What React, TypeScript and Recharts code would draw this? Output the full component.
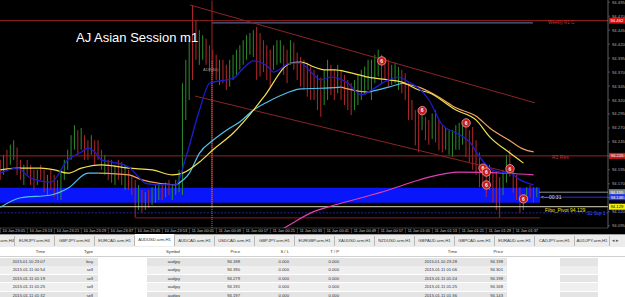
import React from "react";
import { ComposedChart, Bar, Line, Scatter, XAxis, YAxis, ReferenceLine, ReferenceArea } from "recharts";

// minutes counted from 10 Jan 23:00, one m1 bar per minute
const candleHigh = [
  94.213, 94.222, 94.231, 94.24, 94.248, 94.235, 94.213, 94.204, 94.213, 94.204,
  94.195, 94.195, 94.204, 94.195, 94.186, 94.195, 94.186, 94.177, 94.195, 94.213,
  94.231, 94.257, 94.275, 94.266, 94.27, 94.257, 94.248, 94.257, 94.248, 94.248,
  94.231, 94.222, 94.213, 94.213, 94.204, 94.213, 94.209, 94.204, 94.195, 94.186,
  94.177, 94.168, 94.159, 94.155, 94.159, 94.164, 94.168, 94.172, 94.168, 94.172,
  94.177, 94.168, 94.177, 94.195, 94.35, 94.392, 94.427, 94.49, 94.463, 94.445,
  94.436, 94.43, 94.418, 94.41, 94.401, 94.392, 94.392, 94.383, 94.392, 94.401,
  94.41, 94.418, 94.427, 94.436, 94.44, 94.445, 94.451, 94.44, 94.427, 94.418,
  94.41, 94.418, 94.427, 94.427, 94.418, 94.41, 94.427, 94.423, 94.405, 94.397,
  94.392, 94.387, 94.38, 94.374, 94.365, 94.36, 94.374, 94.392, 94.383, 94.374,
  94.383, 94.374, 94.365, 94.356, 94.35, 94.356, 94.365, 94.374, 94.38, 94.392,
  94.392, 94.401, 94.41, 94.401, 94.397, 94.392, 94.383, 94.387, 94.379, 94.374,
  94.368, 94.35, 94.32, 94.302, 94.296, 94.293, 94.29, 94.284, 94.296, 94.302,
  94.284, 94.275, 94.27, 94.266, 94.266, 94.275, 94.279, 94.284, 94.279, 94.266,
  94.272, 94.248, 94.226, 94.204, 94.19, 94.204, 94.195, 94.19, 94.182, 94.195,
  94.222, 94.231, 94.2, 94.186, 94.164, 94.146, 94.164, 94.168, 94.164, 94.164,
];
const candleLow = [
  94.177, 94.186, 94.195, 94.204, 94.213, 94.186, 94.177, 94.168, 94.186, 94.168,
  94.159, 94.168, 94.177, 94.155, 94.15, 94.159, 94.146, 94.141, 94.141, 94.177,
  94.195, 94.213, 94.231, 94.222, 94.231, 94.213, 94.213, 94.222, 94.204, 94.213,
  94.195, 94.186, 94.177, 94.172, 94.168, 94.177, 94.168, 94.159, 94.159, 94.15,
  94.11, 94.123, 94.118, 94.123, 94.127, 94.132, 94.136, 94.141, 94.141, 94.146,
  94.15, 94.141, 94.15, 94.155, 94.15, 94.284, 94.32, 94.356, 94.392, 94.383,
  94.392, 94.383, 94.37, 94.365, 94.356, 94.347, 94.35, 94.338, 94.344, 94.356,
  94.365, 94.374, 94.383, 94.392, 94.401, 94.397, 94.356, 94.362, 94.37, 94.356,
  94.344, 94.374, 94.383, 94.386, 94.365, 94.35, 94.383, 94.374, 94.356, 94.344,
  94.338, 94.326, 94.32, 94.32, 94.302, 94.29, 94.311, 94.32, 94.329, 94.32,
  94.332, 94.32, 94.311, 94.302, 94.293, 94.302, 94.311, 94.32, 94.329, 94.338,
  94.32, 94.35, 94.362, 94.35, 94.356, 94.344, 94.347, 94.35, 94.338, 94.332,
  94.32, 94.284, 94.284, 94.239, 94.226, 94.266, 94.248, 94.24, 94.25, 94.244,
  94.23, 94.226, 94.231, 94.222, 94.218, 94.231, 94.231, 94.24, 94.218, 94.209,
  94.195, 94.186, 94.164, 94.164, 94.146, 94.159, 94.136, 94.123, 94.11, 94.15,
  94.172, 94.183, 94.154, 94.141, 94.118, 94.123, 94.141, 94.146, 94.136, 94.146,
];
const candleDir = [
  "duduuddudd", "dudduddduu", "uuududdudd", "dudduddudd", "dududuuudu",
  "duuuuuuddu", "uddddudduu", "uuuuuudddd", "duuudduddd", "dddddduudd",
  "udddduuuuu", "uuuddduuud", "ddddduddud", "dduuuuuudd", "dddddudddu",
  "udddduuddu",
].join("");

// moving averages as [minute, price]
const fastMa = [
  [1, 94.189], [6, 94.198], [10, 94.18], [16, 94.173], [21, 94.213], [25, 94.227], [27, 94.234],
  [29, 94.227], [31, 94.213], [34, 94.209], [39, 94.2], [42, 94.182], [44, 94.171], [48, 94.168],
  [53, 94.168], [56, 94.218], [60, 94.302], [63, 94.35], [70, 94.359], [73, 94.377], [76, 94.39],
  [80, 94.381], [82, 94.37], [87, 94.386], [90, 94.386], [93, 94.37], [96, 94.356], [99, 94.361],
  [101, 94.359], [104, 94.35], [108, 94.329], [111, 94.338], [116, 94.356], [119, 94.361],
  [122, 94.352], [125, 94.341], [128, 94.32], [132, 94.275], [136, 94.261], [140, 94.245],
  [143, 94.218], [146, 94.198], [149, 94.191], [152, 94.189], [155, 94.177], [159, 94.168],
];
const yellowMa = [
  [1, 94.195], [6, 94.198], [13, 94.198], [17, 94.195], [21, 94.189], [25, 94.198], [31, 94.204],
  [39, 94.198], [46, 94.195], [52, 94.186], [55, 94.189], [60, 94.209], [64, 94.231], [70, 94.261],
  [76, 94.302], [79, 94.325], [87, 94.386], [90, 94.388], [94, 94.379], [97, 94.374], [100, 94.374],
  [104, 94.37], [110, 94.361], [116, 94.356], [120, 94.352], [125, 94.338], [128, 94.333],
  [136, 94.302], [142, 94.284], [146, 94.254], [152, 94.225], [156, 94.207],
];
const slowMa = [
  [1, 94.128], [7, 94.145], [16, 94.15], [21, 94.162], [27, 94.189], [30, 94.189], [39, 94.186],
  [43, 94.177], [48, 94.171], [53, 94.168], [57, 94.189], [60, 94.225], [64, 94.248], [68, 94.266],
  [72, 94.281], [76, 94.302], [80, 94.316], [86, 94.333], [90, 94.34], [96, 94.341], [102, 94.343],
  [107, 94.336], [110, 94.334], [116, 94.343], [120, 94.35], [125, 94.343], [131, 94.325],
  [136, 94.306], [142, 94.291], [146, 94.27], [152, 94.247], [156, 94.232], [159, 94.227],
];
// c = rising (cyan), o = falling (orange), one letter per segment
const slowMaTrend = "ccccc" + "oooo" + "ccccccccccc" + "oo" + "cc" + "oooooooo";
const longMa = [
  [84, 94.087], [86, 94.094], [93, 94.118], [100, 94.132], [108, 94.145], [116, 94.159],
  [122, 94.171], [128, 94.182], [137, 94.191], [151, 94.189], [159, 94.186],
];

const timeTicks = [5, 13, 21, 29, 37, 45, 53, 61, 69, 77, 85, 93, 101, 109, 117, 125, 133, 141, 149, 157];
const timeLabels = [
  "10 Jan 23:05", "10 Jan 23:13", "10 Jan 23:21", "10 Jan 23:29", "10 Jan 23:37", "10 Jan 23:45",
  "10 Jan 23:53", "11 Jan 00:01", "11 Jan 00:09", "11 Jan 00:17", "11 Jan 00:25", "11 Jan 00:33",
  "11 Jan 00:41", "11 Jan 00:49", "11 Jan 00:57", "11 Jan 01:05", "11 Jan 01:13", "11 Jan 01:21",
  "11 Jan 01:29", "11 Jan 01:37",
];
const priceTicks = [
  94.095, 94.12, 94.145, 94.17, 94.195, 94.22, 94.245, 94.27, 94.295, 94.32, 94.345, 94.37,
  94.395, 94.42, 94.445, 94.47, 94.495,
];

const tradeOpenTime = ["2015.01.10 23:07", "2015.01.11 00:54", "2015.01.11 01:19", "2015.01.11 01:25", "2015.01.11 01:32"];
const tradeType = ["buy", "sell", "sell", "sell", "sell"];
const tradeSymbol = ["audjpy", "audjpy", "audjpy", "audjpy", "audjpy"];
const tradeOpenPrice = [94.188, 94.39, 94.279, 94.191, 94.197];
const tradeSL = [0, 0, 0, 0, 0];
const tradeTP = [0, 0, 0, 0, 0];
const tradeCloseTime = ["2015.01.10 23:28", "2015.01.11 01:06", "2015.01.11 01:24", "2015.01.11 01:25", "2015.01.11 01:36"];
const tradeClosePrice = [94.198, 94.301, 94.198, 94.168, 94.143];

const tabs = [
  "USDJPY.arm,H4", "EURJPY.arm,H4", "GBPJPY.arm,H4", "EURCAD.arm,H1", "AUDUSD.arm,H1", "AUDCAD.arm,H1",
  "USDCAD.arm,H1", "GBPJPY.arm,H1", "EURGBP.arm,H1", "XAUUSD.arm,H1", "NZDUSD.arm,H1", "GBPAUD.arm,H1",
  "GBPCAD.arm,H1", "EURAUD.arm,H1", "CADJPY.arm,H1", "AUDJPY.arm,H1",
];

// chart levels
const r1Weekly = 94.462;
const r1Res = 94.22;
const fiboPivot = 94.129;
const sup1 = 94.118;
const bidLine = 94.155;
const askLine = 94.146;
const sessionLow = 94.109;
const sessionBox = { low: 94.136, high: 94.163, end: 160.9 };
const sessionStart = 63.7;

const X_DOMAIN: [number, number] = [0.89, 181.04];
const Y_DOMAIN: [number, number] = [94.0909, 94.499];

const FONT = "'Liberation Sans', Arial, sans-serif";
const UP = "#2c8c2c";
const DOWN = "#b3282a";

const toMinute = (s: string) => {
  const day = Number(s.slice(8, 10));
  const hh = Number(s.slice(11, 13));
  const mm = Number(s.slice(14, 16));
  return (day - 10) * 1440 + hh * 60 + mm - 1380;
};

const candles = candleHigh.map((hi, i) => ({ m: i + 1, range: [candleLow[i], hi], dir: candleDir[i] }));
const toRows = (arr: number[][]) => arr.map(([m, p]) => ({ m, p }));
const slowRows = slowMa.map(([m, p], i) => {
  const prev = slowMaTrend[Math.max(i - 1, 0)];
  const cur = slowMaTrend[Math.min(i, slowMaTrend.length - 1)];
  return {
    m,
    up: cur === "c" || prev === "c" ? p : null,
    down: cur === "o" || prev === "o" ? p : null,
  };
});
const marks: { m: number; p: number }[] = [];
tradeOpenTime.forEach((t, i) => {
  if (!t.startsWith("2015.01.11")) return;
  marks.push({ m: toMinute(t), p: tradeOpenPrice[i] });
  marks.push({ m: toMinute(tradeCloseTime[i]), p: tradeClosePrice[i] });
});

const CandleShape = (props: any) => {
  const { x, y, width, height, payload } = props;
  const top = height < 0 ? y + height : y;
  return (
    <rect x={x + width / 2 - 0.5} y={top} width={1} height={Math.max(Math.abs(height), 1)}
      fill={payload.dir === "u" ? UP : DOWN} />
  );
};

const TradeMark = (props: any) => {
  const { cx, cy } = props;
  return (
    <g>
      <circle cx={cx} cy={cy} r={4.2} fill="#c41c1c" stroke="#f2a0a0" strokeWidth={0.8} />
      <text x={cx} y={cy + 1.8} textAnchor="middle" fontSize={5} fontWeight="bold" fill="#fff" fontFamily={FONT}>6</text>
    </g>
  );
};

const TimeTick = (props: any) => {
  const { x, y, payload } = props;
  const label = timeLabels[timeTicks.indexOf(payload.value)];
  return (
    <g>
      <line x1={x - 13.5} x2={x - 13.5} y1={y} y2={y + 5} stroke="#777" strokeWidth={0.5} />
      <text x={x} y={y + 4.3} textAnchor="middle" fontSize={3.9} fill="#c8c8c8" fontFamily={FONT}>{label}</text>
    </g>
  );
};

const PriceTick = (props: any) => {
  const { x, y, payload } = props;
  return (
    <text x={x} y={y + 1.5} fontSize={4.2} fill="#b0b0b0" fontFamily={FONT}>{payload.value.toFixed(3)}</text>
  );
};

const priceTag = (bg: string, fg: string, value: number) => (p: any) => {
  const vb = p.viewBox || {};
  const x = (vb.x || 0) + (vb.width || 0);
  const y = vb.y || 0;
  return (
    <g>
      <rect x={x + 1} y={y - 3} width={16} height={6} fill={bg} />
      <text x={x + 2.5} y={y + 1.6} fontSize={4.2} fill={fg} fontFamily={FONT}>{value.toFixed(3)}</text>
    </g>
  );
};

const overlay = (left: number, top: number, color: string, size: number, text: string) => (
  <div style={{ position: "absolute", left, top, color, fontSize: size, lineHeight: 1, whiteSpace: "nowrap", fontFamily: FONT }}>
    {text}
  </div>
);

const cols = [
  { h: "Time", r: 45, v: (i: number) => tradeOpenTime[i] },
  { h: "Type", r: 93, v: (i: number) => tradeType[i] },
  { h: "Symbol", r: 180, v: (i: number) => tradeSymbol[i] },
  { h: "Price", r: 240, v: (i: number) => tradeOpenPrice[i].toFixed(3) },
  { h: "S / L", r: 289, v: (i: number) => tradeSL[i].toFixed(3) },
  { h: "T / P", r: 339, v: (i: number) => tradeTP[i].toFixed(3) },
  { h: "Time", r: 457, v: (i: number) => tradeCloseTime[i] },
  { h: "Price", r: 503, v: (i: number) => tradeClosePrice[i].toFixed(3) },
];
const rowBands = [[0, 98], [147, 507], [560, 598]];

const lineProps = { type: "monotone" as const, strokeWidth: 1.2, dot: false, activeDot: false, isAnimationActive: false };

export default function App() {
  return (
    <div style={{ position: "absolute", left: 0, top: 0, width: 625, height: 297, background: "#fff", overflow: "hidden", fontFamily: FONT }}>
      <div style={{ position: "absolute", left: 0, top: 0, width: 625, height: 234, background: "#000" }}>
        <ComposedChart width={625} height={234} data={candles} margin={{ top: 0, right: 0, bottom: 0, left: 0 }}>
          <XAxis dataKey="m" type="number" domain={X_DOMAIN} allowDataOverflow ticks={timeTicks}
            tick={<TimeTick />} tickLine={false} tickSize={0} tickMargin={0} height={6}
            axisLine={{ stroke: "#666", strokeWidth: 0.6 }} interval={0} />
          <YAxis orientation="right" type="number" domain={Y_DOMAIN} allowDataOverflow ticks={priceTicks}
            tick={<PriceTick />} tickSize={2} tickMargin={2} width={17} interval={0}
            axisLine={{ stroke: "#8a8a8a", strokeWidth: 0.7 }} tickLine={{ stroke: "#8a8a8a", strokeWidth: 0.5 }} />

          <ReferenceArea x1={X_DOMAIN[0]} x2={sessionBox.end} y1={sessionBox.low} y2={sessionBox.high}
            fill="#0a16fa" fillOpacity={1} stroke="none" />

          <ReferenceLine y={r1Weekly} stroke="#9a2222" strokeWidth={1} label={priceTag("#d01414", "#fff", r1Weekly)} />
          <ReferenceLine segment={[{ x: sessionStart, y: 94.458 }, { x: 158.8, y: 94.458 }]} stroke="#6a78b0" strokeWidth={1} />
          <ReferenceLine y={r1Res} stroke="#9a2222" strokeWidth={1} label={priceTag("#d01414", "#fff", r1Res)} />
          <ReferenceLine y={fiboPivot} stroke="#d8d8c0" strokeWidth={1} label={priceTag("#f0f010", "#000", fiboPivot)} />
          <ReferenceLine y={sup1} stroke="#2c2cc0" strokeWidth={0.8} strokeDasharray="2 1.5" />
          <ReferenceLine segment={[{ x: 160.6, y: bidLine }, { x: X_DOMAIN[1], y: bidLine }]} stroke="#8c9090" strokeWidth={1} />
          <ReferenceLine segment={[{ x: 160.6, y: askLine }, { x: X_DOMAIN[1], y: askLine }]} stroke="#1a30ff" strokeWidth={1} />
          <ReferenceLine y={bidLine} stroke="none" label={priceTag("#7d8a8a", "#fff", bidLine)} />
          <ReferenceLine y={askLine} stroke="none" label={priceTag("#1a30ff", "#fff", askLine)} />
          <ReferenceLine segment={[{ x: 40.9, y: sessionLow }, { x: sessionBox.end, y: sessionLow }]} stroke="#8a1c1c" strokeWidth={1} />
          <ReferenceLine segment={[{ x: 57.2, y: 94.49 }, { x: 159.4, y: 94.315 }]} stroke="#8b2525" strokeWidth={1} />
          <ReferenceLine segment={[{ x: 58.7, y: 94.327 }, { x: 153.5, y: 94.188 }]} stroke="#8b2525" strokeWidth={1} />
          <ReferenceLine segment={[{ x: sessionStart, y: 94.498 }, { x: sessionStart, y: 94.132 }]} stroke="#a82020" strokeWidth={1} />
          <ReferenceLine segment={[{ x: sessionStart, y: 94.39 }, { x: sessionStart, y: 94.091 }]} stroke="#9ab4d0" strokeWidth={0.8} strokeDasharray="1 1" />

          <Bar dataKey="range" barSize={1} shape={<CandleShape />} activeBar={false} isAnimationActive={false} />

          <Line data={toRows(longMa)} dataKey="p" stroke="#e040b0" {...lineProps} />
          <Line data={slowRows} dataKey="up" stroke="#4ec3f0" {...lineProps} />
          <Line data={slowRows} dataKey="down" stroke="#f0a060" {...lineProps} />
          <Line data={toRows(yellowMa)} dataKey="p" stroke="#f2e050" {...lineProps} />
          <Line data={toRows(fastMa)} dataKey="p" stroke="#1c1cd0" {...lineProps} strokeWidth={1.3} />

          <Scatter data={marks} dataKey="p" shape={<TradeMark />} isAnimationActive={false} />
        </ComposedChart>

        {overlay(76, 30.7, "#fff", 13, "AJ Asian Session m1")}
        {overlay(203, 67.5, "#9a9a9a", 4, "ADR(60)")}
        {overlay(548, 20.5, "#d03030", 4.5, "Weekly R1 C")}
        {overlay(552, 155, "#d03030", 5, "R1 Res")}
        {overlay(541, 194.5, "#dcdcdc", 5, "<---00:31")}
        {overlay(545, 207.5, "#e8e020", 5, "Fibo_Pivot 94.129")}
        {overlay(587, 211.5, "#3a5aff", 4.5, "S1 Sup 1")}
      </div>

      <div style={{ position: "absolute", left: 0, top: 234, width: 625, height: 13, background: "#ececec", borderTop: "1px solid #a0a0a0", boxSizing: "border-box" }}>
        {tabs.map((t, i) => (
          <div key={i} style={{
            position: "absolute", left: i === 0 ? 0 : -25 + 40 * i, top: i === 4 ? -1 : 1,
            width: i === 0 ? 15 : i === tabs.length - 1 ? 35 : 40, height: i === 4 ? 12 : 10,
            background: i === 4 ? "#fff" : "transparent", borderRight: "1px solid #b8b8b8", boxSizing: "border-box",
            fontSize: 4.2, lineHeight: i === 4 ? "12px" : "10px", textAlign: i === 0 ? "right" : "center",
            color: "#333", overflow: "hidden", whiteSpace: "nowrap", direction: i === 0 ? "rtl" : "ltr",
          }}>{i === 0 ? "arm,H4" : t}</div>
        ))}
        <div style={{ position: "absolute", left: 612, top: 2, fontSize: 4.5, color: "#555", lineHeight: "8px" }}>◂ ▸</div>
      </div>

      <div style={{ position: "absolute", left: 0, top: 248, width: 625, height: 9, borderBottom: "1px solid #d0d0d0", boxSizing: "border-box" }}>
        {cols.map((c, j) => (
          <div key={j} style={{ position: "absolute", left: c.r - 80, width: 80, top: 2, textAlign: "right", fontSize: 4.2, lineHeight: 1, color: "#333" }}>{c.h}</div>
        ))}
      </div>
      {tradeOpenTime.map((_, i) => (
        <div key={i} style={{ position: "absolute", left: 0, top: 258 + 8.4 * i, width: 625, height: 8 }}>
          {rowBands.map(([a, b], k) => (
            <div key={k} style={{ position: "absolute", left: a, width: b - a, top: 0, height: 7.6, background: i % 2 === 0 ? "#e4e4e4" : "#efefef" }} />
          ))}
          {cols.map((c, j) => (
            <div key={j} style={{ position: "absolute", left: c.r - 80, width: 80, top: 2, textAlign: "right", fontSize: 4.2, lineHeight: 1, color: "#333" }}>{c.v(i)}</div>
          ))}
        </div>
      ))}
    </div>
  );
}
